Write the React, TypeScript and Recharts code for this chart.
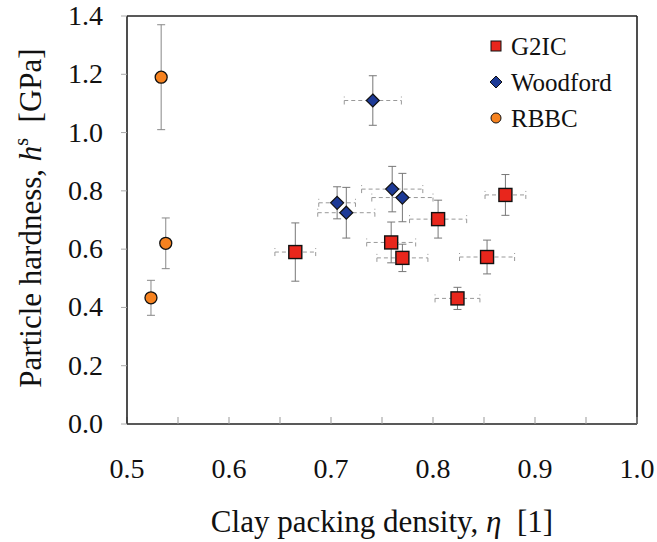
import React from 'react';
import { ScatterChart, Scatter, XAxis, YAxis, ErrorBar, ReferenceLine } from 'recharts';

// G2IC
const g2icEta = [0.665, 0.871, 0.805, 0.759, 0.77, 0.853, 0.824];
const g2icHs = [0.59, 0.786, 0.703, 0.623, 0.57, 0.573, 0.431];
const g2icErrEta = [0.02, 0.02, 0.028, 0.024, 0.025, 0.027, 0.022];
const g2icErrHs = [0.1, 0.07, 0.065, 0.07, 0.047, 0.058, 0.038];

// Woodford
const woodEta = [0.706, 0.715, 0.76, 0.77, 0.741];
const woodHs = [0.759, 0.725, 0.806, 0.777, 1.11];
const woodErrEta = [0.018, 0.028, 0.03, 0.03, 0.028];
const woodErrHs = [0.055, 0.087, 0.078, 0.083, 0.085];

// RBBC
const rbbcEta = [0.5335, 0.538, 0.5235];
const rbbcHs = [1.19, 0.62, 0.433];
const rbbcErrHs = [0.18, 0.087, 0.06];

const xTicks = [0.5, 0.55, 0.6, 0.65, 0.7, 0.75, 0.8, 0.85, 0.9, 0.95, 1.0];
const yTicks = [0, 0.2, 0.4, 0.6, 0.8, 1.0, 1.2, 1.4];
const seriesNames = ['G2IC', 'Woodford', 'RBBC'];

const FONT = 'Liberation Serif';
const fontStyle = { fontFamily: "'Liberation Serif', 'Times New Roman', serif" };
const RED = '#e8261c';
const BLUE = '#1d3a96';
const ORANGE = '#f6821f';

const g2ic = g2icEta.map((x, i) => ({ x, y: g2icHs[i], ex: g2icErrEta[i], ey: g2icErrHs[i] }));
const woodford = woodEta.map((x, i) => ({ x, y: woodHs[i], ex: woodErrEta[i], ey: woodErrHs[i] }));
const rbbc = rbbcEta.map((x, i) => ({ x, y: rbbcHs[i], ey: rbbcErrHs[i] }));

const Square = (props: any) => {
  const { cx, cy } = props;
  const s = 13;
  return <rect x={cx - s / 2} y={cy - s / 2} width={s} height={s} fill={RED} stroke="#111" strokeWidth={1.4} />;
};
const Diamond = (props: any) => {
  const { cx, cy } = props;
  const s = 6.5;
  return (
    <polygon
      points={`${cx},${cy - s} ${cx + s},${cy} ${cx},${cy + s} ${cx - s},${cy}`}
      fill={BLUE}
      stroke="#111"
      strokeWidth={1.2}
    />
  );
};
const Circle = (props: any) => {
  const { cx, cy } = props;
  return <circle cx={cx} cy={cy} r={6} fill={ORANGE} stroke="#111" strokeWidth={1.3} />;
};

const XTick = ({ x, payload }: any) => {
  const v = payload.value;
  if (Math.round(v * 100) % 10 !== 0) return null;
  return (
    <text x={x} y={478} textAnchor="middle" fontFamily={FONT} style={fontStyle} fontSize={28} fill="#111">
      {v.toFixed(1)}
    </text>
  );
};

const YTick = ({ x, y, payload }: any) => (
  <text x={x} y={y + 9} textAnchor="end" fontFamily={FONT} style={fontStyle} fontSize={28} fill="#111">
    {payload.value.toFixed(1)}
  </text>
);

const XTitle = ({ viewBox }: any) => (
  <text
    x={viewBox.x + viewBox.width / 2}
    y={viewBox.y + 108}
    textAnchor="middle"
    fontFamily={FONT}
    style={fontStyle}
    fontSize={31}
    fill="#111"
  >
    Clay packing density, <tspan fontStyle="italic">η</tspan>{'\u00a0\u00a0'}[1]
  </text>
);

const YTitle = () => (
  <text
    x={41}
    y={218}
    transform="rotate(-90, 41, 218)"
    textAnchor="middle"
    fontFamily={FONT}
    style={fontStyle}
    fontSize={31}
    fill="#111"
  >
    Particle hardness, <tspan fontStyle="italic">h</tspan>
    <tspan fontSize={20} dy={-13}>s</tspan>
    <tspan dy={13}>{'\u00a0\u00a0'}[GPa]</tspan>
  </text>
);

const legendIcons = [
  <rect x={-5} y={-5} width={10} height={10} fill={RED} stroke="#111" strokeWidth={1} />,
  <polygon points="0,-6 6,0 0,6 -6,0" fill={BLUE} stroke="#111" strokeWidth={1} />,
  <circle cx={0} cy={0} r={5} fill={ORANGE} stroke="#111" strokeWidth={1} />,
];

export default function App() {
  return (
    <div style={{ position: 'fixed', left: 0, top: 0, width: 657, height: 542, background: '#fff', ...fontStyle }}>
      <ScatterChart width={657} height={542} margin={{ top: 16, right: 20, bottom: 0, left: 0 }}>
        <XAxis
          type="number"
          dataKey="x"
          domain={[0.5, 1.0]}
          ticks={xTicks}
          interval={0}
          tickSize={-7}
          tickMargin={41}
          tickLine={{ stroke: '#999', strokeWidth: 1 }}
          axisLine={{ stroke: '#222', strokeWidth: 1.6 }}
          tick={<XTick />}
          height={118}
          label={<XTitle />}
        />
        <YAxis
          type="number"
          dataKey="y"
          domain={[0, 1.4]}
          ticks={yTicks}
          interval={0}
          tickSize={6}
          tickMargin={18}
          tickLine={{ stroke: '#aaa', strokeWidth: 1 }}
          axisLine={{ stroke: '#222', strokeWidth: 1.6 }}
          tick={<YTick />}
          width={127}
          label={<YTitle />}
        />
        <ReferenceLine x={1.0} stroke="#222" strokeWidth={1.6} />
        <ReferenceLine y={1.4} stroke="#222" strokeWidth={1.6} />
        <Scatter name="RBBC" data={rbbc} shape={Circle} isAnimationActive={false}>
          <ErrorBar dataKey="ey" direction="y" width={4} stroke="#888" strokeWidth={1} />
        </Scatter>
        <Scatter name="Woodford" data={woodford} shape={Diamond} isAnimationActive={false}>
          <ErrorBar dataKey="ex" direction="x" width={4} stroke="#999" strokeWidth={1} strokeDasharray="4 3" />
          <ErrorBar dataKey="ey" direction="y" width={4} stroke="#777" strokeWidth={1} />
        </Scatter>
        <Scatter name="G2IC" data={g2ic} shape={Square} isAnimationActive={false}>
          <ErrorBar dataKey="ex" direction="x" width={4} stroke="#999" strokeWidth={1} strokeDasharray="4 3" />
          <ErrorBar dataKey="ey" direction="y" width={4} stroke="#777" strokeWidth={1} />
        </Scatter>
      </ScatterChart>
      <svg width={160} height={110} style={{ position: 'absolute', left: 485, top: 28 }}>
        {seriesNames.map((name, i) => (
          <g key={name} transform={`translate(11, ${18 + i * 36})`}>
            {legendIcons[i]}
            <text x={15} y={9} fontFamily={FONT} style={fontStyle} fontSize={25} fill="#111">
              {name}
            </text>
          </g>
        ))}
      </svg>
    </div>
  );
}
